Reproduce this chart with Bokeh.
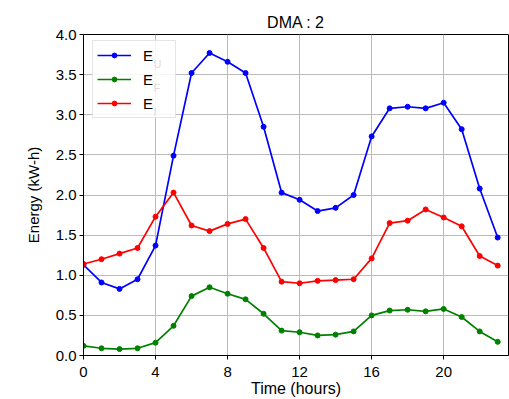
from bokeh.plotting import figure
from bokeh.models import Range1d, FixedTicker, Legend, LegendItem, Label, NumeralTickFormatter
from bokeh.embed import file_html
from bokeh.resources import INLINE

hours = list(range(24))
e_u = [1.13, 0.91, 0.83, 0.95, 1.37, 2.49, 3.52, 3.77, 3.66, 3.52, 2.85, 2.03,
       1.94, 1.80, 1.84, 2.00, 2.73, 3.08, 3.10, 3.08, 3.15, 2.82, 2.08, 1.47]
e_f = [0.12, 0.09, 0.08, 0.09, 0.16, 0.37, 0.74, 0.85, 0.77, 0.70, 0.52, 0.31,
       0.29, 0.25, 0.26, 0.30, 0.50, 0.56, 0.57, 0.55, 0.58, 0.48, 0.30, 0.17]
e_i = [1.14, 1.20, 1.27, 1.34, 1.73, 2.03, 1.62, 1.55, 1.64, 1.70, 1.34, 0.92,
       0.90, 0.93, 0.94, 0.95, 1.21, 1.65, 1.68, 1.82, 1.72, 1.61, 1.24, 1.12]
series_names = ["U", "F", "I"]
series_colors = ["#0000ff", "#008000", "#ff0000"]
x_ticks = [0, 4, 8, 12, 16, 20]
y_ticks = [0.0, 0.5, 1.0, 1.5, 2.0, 2.5, 3.0, 3.5, 4.0]

FONT = "Liberation Sans"

p = figure(width=509, height=399, output_backend="svg", toolbar_location=None,
           x_range=Range1d(0, 23.6), y_range=Range1d(0, 4),
           min_border_left=83, min_border_right=1, min_border_top=34,
           min_border_bottom=44, title="DMA : 2")
p.title.align = "center"
p.title.text_font = FONT
p.title.text_font_size = "16px"
p.title.text_font_style = "normal"
p.title.text_color = "black"
p.title.standoff = 7

p.outline_line_color = "black"
p.outline_line_width = 1
p.outline_line_alpha = 1

for ax in (p.xaxis[0], p.yaxis[0]):
    ax.axis_line_color = "black"
    ax.major_tick_line_color = "black"
    ax.major_tick_out = 4
    ax.major_tick_in = 0
    ax.minor_tick_line_color = None
    ax.major_label_text_font = FONT
    ax.major_label_text_font_size = "15px"
    ax.major_label_text_color = "black"
    ax.axis_label_text_font = FONT
    ax.axis_label_text_font_style = "normal"
    ax.axis_label_text_color = "black"

p.xaxis.ticker = FixedTicker(ticks=x_ticks)
p.yaxis.ticker = FixedTicker(ticks=y_ticks)
p.yaxis.formatter = NumeralTickFormatter(format="0.0")
p.xaxis.axis_label = "Time (hours)"
p.yaxis.axis_label = "Energy (kW-h)"
p.xaxis.axis_label_text_font_size = "16px"
p.yaxis.axis_label_text_font_size = "15px"
p.xaxis.major_label_standoff = 7
p.yaxis.major_label_standoff = 3
p.xaxis.axis_label_standoff = 0
p.yaxis.axis_label_standoff = 11

p.grid.grid_line_color = "#bbbbbb"
p.grid.grid_line_width = 1

items = []
for vals, name, col in zip([e_u, e_f, e_i], series_names, series_colors):
    l = p.line(hours, vals, line_color=col, line_width=1.7)
    c = p.scatter(hours, vals, size=5, fill_color=col, line_color=col)
    items.append(LegendItem(label="E", renderers=[l, c]))

legend = Legend(items=items, location=(9, 237), level="underlay")
legend.label_text_font = FONT
legend.label_text_font_size = "15px"
legend.label_text_color = "black"
legend.glyph_width = 34
legend.glyph_height = 12
legend.label_height = 20
legend.label_width = 28
legend.label_standoff = 12
legend.padding = 4
legend.spacing = 4
legend.border_line_color = "#cccccc"
legend.border_line_width = 1
legend.background_fill_alpha = 0.85
p.add_layout(legend, "center")

for i, name in enumerate(series_names):
    p.add_layout(Label(x=70, y=292 - 24 * i, x_units="screen", y_units="screen",
                       text=name, text_font=FONT, text_font_size="11px",
                       text_baseline="alphabetic", text_color="#000000",
                       text_alpha=1.0))

open("out.html", "w").write(file_html(p, INLINE))
